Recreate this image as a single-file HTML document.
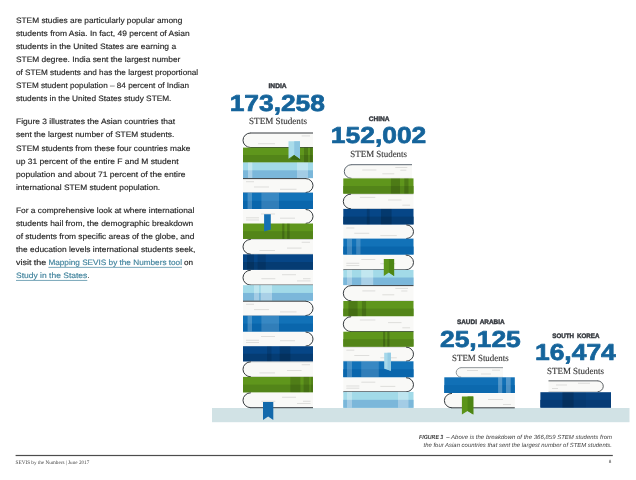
<!DOCTYPE html>
<html lang="en"><head><meta charset="utf-8"><title>SEVIS by the Numbers</title>
<style>
html,body{margin:0;padding:0;background:#fff;}
body{width:636px;height:480px;overflow:hidden;}
svg{display:block;}
text{white-space:pre;text-rendering:geometricPrecision;}
</style></head><body>
<svg width="636" height="480" viewBox="0 0 636 480">
<rect width="636" height="480" fill="#ffffff"/>
<rect x="212" y="408" width="417.5" height="14.2" fill="#d1e2e5"/>
<path d="M313 133.00 H250.25 A7.25 7.25 0 0 0 250.25 147.50 H313 Z" fill="#f9f9f7"/><line x1="301.7" y1="135.9" x2="310" y2="135.9" stroke="#d3d3d0" stroke-width="0.7"/><line x1="258" y1="143.7" x2="275" y2="143.7" stroke="#d3d3d0" stroke-width="0.7"/><path d="M250.25 133.00 A7.25 7.25 0 0 0 250.25 147.50" fill="none" stroke="#363b3f" stroke-width="1.0" stroke-linecap="round"/><path d="M250.25 133.00 H313" fill="none" stroke="#363b3f" stroke-width="1.0"/><path d="M250.25 147.50 H313" fill="none" stroke="#363b3f" stroke-width="1.0"/>
<rect x="243" y="147.6" width="70.00" height="14.90" fill="#5f961c"/><rect x="243" y="155.05" width="70.00" height="7.45" fill="#538519"/><rect x="304" y="147.6" width="4.00" height="14.90" fill="#000" fill-opacity="0.18"/><rect x="310" y="147.6" width="2.50" height="14.90" fill="#000" fill-opacity="0.18"/>
<rect x="243" y="162.5" width="70.00" height="15.60" fill="#a2dae8"/><rect x="243" y="170.30" width="70.00" height="7.80" fill="#7bb7da"/><rect x="248" y="162.5" width="4.30" height="15.60" fill="#fff" fill-opacity="0.35"/><rect x="297" y="162.5" width="11.00" height="15.60" fill="#fff" fill-opacity="0.3"/>
<path d="M243 178.60 H306.05 A6.95 6.95 0 0 1 306.05 192.50 H243 Z" fill="#f9f9f7"/><line x1="246" y1="181.7" x2="254" y2="181.7" stroke="#d3d3d0" stroke-width="0.7"/><line x1="254" y1="187.0" x2="269" y2="187.0" stroke="#d3d3d0" stroke-width="0.7"/><line x1="280" y1="189.29999999999998" x2="296.5" y2="189.29999999999998" stroke="#d3d3d0" stroke-width="0.7"/><path d="M306.05 178.60 A6.95 6.95 0 0 1 306.05 192.50" fill="none" stroke="#363b3f" stroke-width="1.0" stroke-linecap="round"/><path d="M306.05 178.60 H243" fill="none" stroke="#363b3f" stroke-width="1.0"/><path d="M306.05 192.50 H243" fill="none" stroke="#363b3f" stroke-width="0.60" stroke-opacity="0.4"/>
<rect x="243" y="192.6" width="70.00" height="16.40" fill="#1272b8"/><rect x="243" y="200.80" width="70.00" height="8.20" fill="#0a66ac"/><rect x="247.6" y="192.6" width="4.40" height="16.40" fill="#fff" fill-opacity="0.22"/><rect x="261.4" y="192.6" width="17.60" height="16.40" fill="#fff" fill-opacity="0.16"/>
<path d="M243 209.50 H306.05 A6.95 6.95 0 0 1 306.05 223.40 H243 Z" fill="#f9f9f7"/><line x1="261" y1="214.0" x2="275" y2="214.0" stroke="#d3d3d0" stroke-width="0.7"/><line x1="246" y1="217.8" x2="259" y2="217.8" stroke="#d3d3d0" stroke-width="0.7"/><line x1="246" y1="220.0" x2="259" y2="220.0" stroke="#d3d3d0" stroke-width="0.7"/><line x1="280" y1="218.2" x2="295" y2="218.2" stroke="#d3d3d0" stroke-width="0.7"/><path d="M306.05 209.50 A6.95 6.95 0 0 1 306.05 223.40" fill="none" stroke="#363b3f" stroke-width="1.0" stroke-linecap="round"/>
<rect x="243" y="223.5" width="70.00" height="15.40" fill="#5f961c"/><rect x="243" y="231.20" width="70.00" height="7.70" fill="#538519"/><rect x="282.2" y="223.5" width="2.20" height="15.40" fill="#000" fill-opacity="0.2"/><rect x="287.1" y="223.5" width="2.60" height="15.40" fill="#000" fill-opacity="0.2"/>
<path d="M313 239.40 H250.40 A7.40 7.40 0 0 0 250.40 254.20 H313 Z" fill="#f9f9f7"/><line x1="301.7" y1="242.3" x2="310" y2="242.3" stroke="#d3d3d0" stroke-width="0.7"/><line x1="287" y1="248.1" x2="301.5" y2="248.1" stroke="#d3d3d0" stroke-width="0.7"/><line x1="259.5" y1="250.5" x2="275" y2="250.5" stroke="#d3d3d0" stroke-width="0.7"/><path d="M250.40 239.40 A7.40 7.40 0 0 0 250.40 254.20" fill="none" stroke="#363b3f" stroke-width="1.0" stroke-linecap="round"/><path d="M250.40 239.40 H313" fill="none" stroke="#363b3f" stroke-width="0.60" stroke-opacity="0.4"/><path d="M250.40 254.20 H313" fill="none" stroke="#363b3f" stroke-width="0.60" stroke-opacity="0.3"/>
<rect x="243" y="254.3" width="70.00" height="15.40" fill="#064687"/><rect x="243" y="262.00" width="70.00" height="7.70" fill="#053c73"/><rect x="247" y="254.3" width="7.00" height="15.40" fill="#000" fill-opacity="0.15"/><rect x="257.6" y="254.3" width="8.20" height="15.40" fill="#000" fill-opacity="0.12"/>
<path d="M313 270.20 H250.45 A7.45 7.45 0 0 0 250.45 285.10 H313 Z" fill="#f9f9f7"/><line x1="282" y1="274.7" x2="296" y2="274.7" stroke="#d3d3d0" stroke-width="0.7"/><line x1="261.4" y1="278.7" x2="275.3" y2="278.7" stroke="#d3d3d0" stroke-width="0.7"/><line x1="303" y1="278.7" x2="310.5" y2="278.7" stroke="#d3d3d0" stroke-width="0.7"/><line x1="297" y1="280.9" x2="310.5" y2="280.9" stroke="#d3d3d0" stroke-width="0.7"/><path d="M250.45 270.20 A7.45 7.45 0 0 0 250.45 285.10" fill="none" stroke="#363b3f" stroke-width="1.0" stroke-linecap="round"/><path d="M250.45 285.10 H313" fill="none" stroke="#363b3f" stroke-width="1.0"/>
<rect x="243" y="285.2" width="70.00" height="15.50" fill="#a2dae8"/><rect x="243" y="292.95" width="70.00" height="7.75" fill="#7bb7da"/><rect x="254" y="285.2" width="5.00" height="15.50" fill="#fff" fill-opacity="0.3"/><rect x="260.8" y="285.2" width="11.20" height="15.50" fill="#fff" fill-opacity="0.35"/>
<path d="M243 301.20 H305.80 A7.20 7.20 0 0 1 305.80 315.60 H243 Z" fill="#f9f9f7"/><line x1="246" y1="304.3" x2="254" y2="304.3" stroke="#d3d3d0" stroke-width="0.7"/><line x1="254" y1="309.59999999999997" x2="269" y2="309.59999999999997" stroke="#d3d3d0" stroke-width="0.7"/><line x1="280" y1="311.9" x2="296.5" y2="311.9" stroke="#d3d3d0" stroke-width="0.7"/><path d="M305.80 301.20 A7.20 7.20 0 0 1 305.80 315.60" fill="none" stroke="#363b3f" stroke-width="1.0" stroke-linecap="round"/><path d="M305.80 301.20 H243" fill="none" stroke="#363b3f" stroke-width="1.0"/><path d="M305.80 315.60 H243" fill="none" stroke="#363b3f" stroke-width="0.60" stroke-opacity="0.4"/>
<rect x="243" y="315.7" width="70.00" height="15.80" fill="#1272b8"/><rect x="243" y="323.60" width="70.00" height="7.90" fill="#0a66ac"/><rect x="247.6" y="315.7" width="4.40" height="15.80" fill="#fff" fill-opacity="0.22"/><rect x="261.4" y="315.7" width="17.60" height="15.80" fill="#fff" fill-opacity="0.16"/>
<path d="M243 332.00 H305.95 A7.05 7.05 0 0 1 305.95 346.10 H243 Z" fill="#f9f9f7"/><line x1="261" y1="336.5" x2="275" y2="336.5" stroke="#d3d3d0" stroke-width="0.7"/><line x1="246" y1="340.3" x2="259" y2="340.3" stroke="#d3d3d0" stroke-width="0.7"/><line x1="246" y1="342.5" x2="259" y2="342.5" stroke="#d3d3d0" stroke-width="0.7"/><line x1="280" y1="340.7" x2="295" y2="340.7" stroke="#d3d3d0" stroke-width="0.7"/><path d="M305.95 332.00 A7.05 7.05 0 0 1 305.95 346.10" fill="none" stroke="#363b3f" stroke-width="1.0" stroke-linecap="round"/>
<rect x="243" y="346.2" width="70.00" height="15.10" fill="#064687"/><rect x="243" y="353.75" width="70.00" height="7.55" fill="#053c73"/><rect x="267" y="346.2" width="4.50" height="15.10" fill="#000" fill-opacity="0.12"/><rect x="279.7" y="346.2" width="10.60" height="15.10" fill="#000" fill-opacity="0.18"/>
<path d="M313 361.80 H250.50 A7.50 7.50 0 0 0 250.50 376.80 H313 Z" fill="#f9f9f7"/><line x1="301.7" y1="364.7" x2="310" y2="364.7" stroke="#d3d3d0" stroke-width="0.7"/><line x1="287" y1="370.5" x2="301.5" y2="370.5" stroke="#d3d3d0" stroke-width="0.7"/><line x1="259.5" y1="372.90000000000003" x2="275" y2="372.90000000000003" stroke="#d3d3d0" stroke-width="0.7"/><path d="M250.50 361.80 A7.50 7.50 0 0 0 250.50 376.80" fill="none" stroke="#363b3f" stroke-width="1.0" stroke-linecap="round"/><path d="M250.50 361.80 H313" fill="none" stroke="#363b3f" stroke-width="0.60" stroke-opacity="0.4"/><path d="M250.50 376.80 H313" fill="none" stroke="#363b3f" stroke-width="0.60" stroke-opacity="0.3"/>
<rect x="243" y="376.9" width="70.00" height="15.40" fill="#5f961c"/><rect x="243" y="384.60" width="70.00" height="7.70" fill="#538519"/><rect x="290.3" y="376.9" width="10.10" height="15.40" fill="#000" fill-opacity="0.16"/><rect x="303.6" y="376.9" width="5.60" height="15.40" fill="#000" fill-opacity="0.16"/><rect x="311" y="376.9" width="2.00" height="15.40" fill="#000" fill-opacity="0.12"/>
<path d="M313 392.80 H250.45 A7.45 7.45 0 0 0 250.45 407.70 H313 Z" fill="#f9f9f7"/><line x1="282" y1="397.3" x2="296" y2="397.3" stroke="#d3d3d0" stroke-width="0.7"/><line x1="261.4" y1="401.3" x2="275.3" y2="401.3" stroke="#d3d3d0" stroke-width="0.7"/><line x1="303" y1="401.3" x2="310.5" y2="401.3" stroke="#d3d3d0" stroke-width="0.7"/><line x1="297" y1="403.5" x2="310.5" y2="403.5" stroke="#d3d3d0" stroke-width="0.7"/><path d="M250.45 392.80 A7.45 7.45 0 0 0 250.45 407.70" fill="none" stroke="#363b3f" stroke-width="1.0" stroke-linecap="round"/><path d="M250.45 407.70 H313" fill="none" stroke="#363b3f" stroke-width="1.0"/>
<path d="M290 159.6 L294.3 154.6 L301 160.2 Z" fill="#2f5d0f" fill-opacity="0.75"/>
<path d="M288.5 141.3 H300 V158.7 L294.25 154.7 L288.5 158.7 Z" fill="#a9dcea"/>
<path d="M294.25 141.3 H300 V158.7 L294.25 154.7 Z" fill="#8cc6e0"/>
<path d="M264.1 214.3 H270.8 V229.6 L264.1 231.6 Z" fill="#1570b4"/>
<path d="M263 402 H273.3 V420 L268.15 416.5 L263 420 Z" fill="#1369ab"/>
<path d="M412.0 164.70 H351.10 A6.80 6.80 0 0 0 351.10 178.30 H412.0 Z" fill="#f9f9f7"/><line x1="395.3" y1="167.5" x2="407.3" y2="167.5" stroke="#d3d3d0" stroke-width="0.7"/><line x1="400.3" y1="170.2" x2="406.3" y2="170.2" stroke="#d3d3d0" stroke-width="0.7"/><line x1="362.3" y1="170.0" x2="376.3" y2="170.0" stroke="#d3d3d0" stroke-width="0.7"/><line x1="382.3" y1="173.79999999999998" x2="394.3" y2="173.79999999999998" stroke="#d3d3d0" stroke-width="0.7"/><path d="M351.10 164.70 A6.80 6.80 0 0 0 351.10 178.30" fill="none" stroke="#5d6770" stroke-width="1.0" stroke-linecap="round"/><path d="M351.10 164.70 H412.0" fill="none" stroke="#5d6770" stroke-width="1.0"/><path d="M351.10 178.30 H412.0" fill="none" stroke="#5d6770" stroke-width="0.60" stroke-opacity="0.3"/>
<rect x="343.3" y="178.4" width="70.20" height="15.20" fill="#5f961c"/><rect x="343.3" y="186.00" width="70.20" height="7.60" fill="#538519"/><rect x="390.9" y="178.4" width="9.10" height="15.20" fill="#000" fill-opacity="0.18"/><rect x="404.3" y="178.4" width="4.20" height="15.20" fill="#000" fill-opacity="0.18"/>
<path d="M413.5 194.10 H350.65 A7.35 7.35 0 0 0 350.65 208.80 H413.5 Z" fill="#f9f9f7"/><line x1="359.90000000000003" y1="197.4" x2="375.3" y2="197.4" stroke="#d3d3d0" stroke-width="0.7"/><line x1="388.1" y1="200.0" x2="401.5" y2="200.0" stroke="#d3d3d0" stroke-width="0.7"/><line x1="402.3" y1="205.2" x2="410.1" y2="205.2" stroke="#d3d3d0" stroke-width="0.7"/><path d="M350.65 194.10 A7.35 7.35 0 0 0 350.65 208.80" fill="none" stroke="#363b3f" stroke-width="1.0" stroke-linecap="round"/><path d="M350.65 194.10 H413.5" fill="none" stroke="#363b3f" stroke-width="0.60" stroke-opacity="0.3"/><path d="M350.65 208.80 H413.5" fill="none" stroke="#363b3f" stroke-width="0.60" stroke-opacity="0.3"/>
<rect x="343.3" y="208.9" width="70.20" height="15.50" fill="#064687"/><rect x="343.3" y="216.65" width="70.20" height="7.75" fill="#053c73"/><rect x="366.8" y="208.9" width="2.90" height="15.50" fill="#000" fill-opacity="0.15"/><rect x="381" y="208.9" width="10.60" height="15.50" fill="#000" fill-opacity="0.18"/>
<path d="M343.3 224.90 H406.70 A6.80 6.80 0 0 1 406.70 238.50 H343.3 Z" fill="#f9f9f7"/><line x1="346.3" y1="228.0" x2="354.3" y2="228.0" stroke="#d3d3d0" stroke-width="0.7"/><line x1="354.3" y1="233.3" x2="369.3" y2="233.3" stroke="#d3d3d0" stroke-width="0.7"/><line x1="380.3" y1="235.6" x2="396.8" y2="235.6" stroke="#d3d3d0" stroke-width="0.7"/><path d="M406.70 224.90 A6.80 6.80 0 0 1 406.70 238.50" fill="none" stroke="#363b3f" stroke-width="1.0" stroke-linecap="round"/>
<rect x="343.3" y="238.6" width="70.20" height="15.90" fill="#1272b8"/><rect x="343.3" y="246.55" width="70.20" height="7.95" fill="#0a66ac"/><rect x="347" y="238.6" width="5.00" height="15.90" fill="#fff" fill-opacity="0.22"/><rect x="356.2" y="238.6" width="4.30" height="15.90" fill="#fff" fill-opacity="0.2"/>
<path d="M343.3 255.00 H406.10 A7.40 7.40 0 0 1 406.10 269.80 H343.3 Z" fill="#f9f9f7"/><line x1="361.3" y1="259.5" x2="375.3" y2="259.5" stroke="#d3d3d0" stroke-width="0.7"/><line x1="346.3" y1="263.3" x2="359.3" y2="263.3" stroke="#d3d3d0" stroke-width="0.7"/><line x1="346.3" y1="265.5" x2="359.3" y2="265.5" stroke="#d3d3d0" stroke-width="0.7"/><line x1="380.3" y1="263.7" x2="395.3" y2="263.7" stroke="#d3d3d0" stroke-width="0.7"/><path d="M406.10 255.00 A7.40 7.40 0 0 1 406.10 269.80" fill="none" stroke="#363b3f" stroke-width="1.0" stroke-linecap="round"/><path d="M406.10 269.80 H343.3" fill="none" stroke="#363b3f" stroke-width="1.0"/>
<rect x="343.3" y="269.9" width="70.20" height="15.20" fill="#a2dae8"/><rect x="343.3" y="277.50" width="70.20" height="7.60" fill="#7bb7da"/><rect x="347" y="269.9" width="5.00" height="15.20" fill="#fff" fill-opacity="0.3"/><rect x="361.2" y="269.9" width="12.00" height="15.20" fill="#fff" fill-opacity="0.35"/>
<path d="M413.5 285.60 H350.95 A7.65 7.65 0 0 0 350.95 300.90 H413.5 Z" fill="#f9f9f7"/><line x1="395.3" y1="288.40000000000003" x2="408.0" y2="288.40000000000003" stroke="#d3d3d0" stroke-width="0.7"/><line x1="401.3" y1="291.0" x2="407.3" y2="291.0" stroke="#d3d3d0" stroke-width="0.7"/><line x1="362.3" y1="290.90000000000003" x2="375.3" y2="290.90000000000003" stroke="#d3d3d0" stroke-width="0.7"/><line x1="382.3" y1="294.8" x2="394.3" y2="294.8" stroke="#d3d3d0" stroke-width="0.7"/><path d="M350.95 285.60 A7.65 7.65 0 0 0 350.95 300.90" fill="none" stroke="#363b3f" stroke-width="1.0" stroke-linecap="round"/><path d="M350.95 285.60 H413.5" fill="none" stroke="#363b3f" stroke-width="1.0"/><path d="M350.95 300.90 H413.5" fill="none" stroke="#363b3f" stroke-width="0.60" stroke-opacity="0.3"/>
<rect x="343.3" y="301.0" width="70.20" height="15.20" fill="#5f961c"/><rect x="343.3" y="308.60" width="70.20" height="7.60" fill="#538519"/><rect x="348.4" y="301.0" width="9.20" height="15.20" fill="#000" fill-opacity="0.18"/><rect x="361.9" y="301.0" width="4.20" height="15.20" fill="#000" fill-opacity="0.18"/>
<path d="M413.5 316.70 H350.75 A7.45 7.45 0 0 0 350.75 331.60 H413.5 Z" fill="#f9f9f7"/><line x1="359.90000000000003" y1="320.0" x2="375.3" y2="320.0" stroke="#d3d3d0" stroke-width="0.7"/><line x1="388.1" y1="322.59999999999997" x2="401.5" y2="322.59999999999997" stroke="#d3d3d0" stroke-width="0.7"/><line x1="402.3" y1="327.8" x2="410.1" y2="327.8" stroke="#d3d3d0" stroke-width="0.7"/><path d="M350.75 316.70 A7.45 7.45 0 0 0 350.75 331.60" fill="none" stroke="#363b3f" stroke-width="1.0" stroke-linecap="round"/><path d="M350.75 331.60 H413.5" fill="none" stroke="#363b3f" stroke-width="1.0"/>
<rect x="343.3" y="331.7" width="70.20" height="14.90" fill="#5f961c"/><rect x="343.3" y="339.15" width="70.20" height="7.45" fill="#538519"/><rect x="383.1" y="331.7" width="2.10" height="14.90" fill="#000" fill-opacity="0.22"/><rect x="387.3" y="331.7" width="2.20" height="14.90" fill="#000" fill-opacity="0.22"/>
<path d="M343.3 347.10 H406.45 A7.05 7.05 0 0 1 406.45 361.20 H343.3 Z" fill="#f9f9f7"/><line x1="346.3" y1="350.20000000000005" x2="354.3" y2="350.20000000000005" stroke="#d3d3d0" stroke-width="0.7"/><line x1="354.3" y1="355.5" x2="369.3" y2="355.5" stroke="#d3d3d0" stroke-width="0.7"/><line x1="380.3" y1="357.8" x2="396.8" y2="357.8" stroke="#d3d3d0" stroke-width="0.7"/><path d="M406.45 347.10 A7.05 7.05 0 0 1 406.45 361.20" fill="none" stroke="#363b3f" stroke-width="1.0" stroke-linecap="round"/><path d="M406.45 347.10 H343.3" fill="none" stroke="#363b3f" stroke-width="0.60" stroke-opacity="0.3"/><path d="M406.45 361.20 H343.3" fill="none" stroke="#363b3f" stroke-width="0.60" stroke-opacity="0.3"/>
<rect x="343.3" y="361.3" width="70.20" height="15.90" fill="#1272b8"/><rect x="343.3" y="369.25" width="70.20" height="7.95" fill="#0a66ac"/><rect x="347" y="361.3" width="5.00" height="15.90" fill="#fff" fill-opacity="0.22"/><rect x="361.2" y="361.3" width="17.60" height="15.90" fill="#fff" fill-opacity="0.16"/>
<path d="M343.3 377.70 H406.45 A7.05 7.05 0 0 1 406.45 391.80 H343.3 Z" fill="#f9f9f7"/><line x1="361.3" y1="382.2" x2="375.3" y2="382.2" stroke="#d3d3d0" stroke-width="0.7"/><line x1="346.3" y1="386.0" x2="359.3" y2="386.0" stroke="#d3d3d0" stroke-width="0.7"/><line x1="346.3" y1="388.2" x2="359.3" y2="388.2" stroke="#d3d3d0" stroke-width="0.7"/><line x1="380.3" y1="386.4" x2="395.3" y2="386.4" stroke="#d3d3d0" stroke-width="0.7"/><path d="M406.45 377.70 A7.05 7.05 0 0 1 406.45 391.80" fill="none" stroke="#363b3f" stroke-width="1.0" stroke-linecap="round"/><path d="M406.45 391.80 H343.3" fill="none" stroke="#363b3f" stroke-width="1.0"/>
<rect x="343.3" y="391.9" width="70.20" height="15.90" fill="#a2dae8"/><rect x="343.3" y="399.85" width="70.20" height="7.95" fill="#7bb7da"/><rect x="347" y="391.9" width="5.00" height="15.90" fill="#fff" fill-opacity="0.3"/><rect x="398" y="391.9" width="10.50" height="15.90" fill="#fff" fill-opacity="0.3"/>
<path d="M383.8 258.9 H394.1 V275.9 L388.95000000000005 272.4 L383.8 275.9 Z" fill="#5b9419"/>
<path d="M388.95000000000005 258.9 H394.1 V275.9 L388.95000000000005 272.4 Z" fill="#4d8514"/>
<path d="M384.2 352.8 H390.9 V370.7 L384.2 368.7 Z" fill="#a6d8ea"/>
<path d="M387.54999999999995 352.8 H390.9 V370.7 L387.54999999999995 369.7 Z" fill="#93cbe4"/>
<path d="M503 367.65 H460.77 A4.78 4.78 0 0 0 460.77 377.20 H503 Z" fill="#f9f9f7"/><line x1="467" y1="370.5" x2="478" y2="370.5" stroke="#d3d3d0" stroke-width="0.7"/><line x1="492" y1="370.2" x2="500" y2="370.2" stroke="#d3d3d0" stroke-width="0.7"/><line x1="481" y1="374" x2="491" y2="374" stroke="#d3d3d0" stroke-width="0.7"/><path d="M460.77 367.65 A4.78 4.78 0 0 0 460.77 377.20" fill="none" stroke="#858b90" stroke-width="0.9" stroke-linecap="round"/><path d="M460.77 367.65 H503" fill="none" stroke="#858b90" stroke-width="0.9"/><path d="M460.77 377.20 H503" fill="none" stroke="#858b90" stroke-width="0.54" stroke-opacity="0.4"/>
<rect x="444.3" y="377.3" width="70.50" height="15.70" fill="#1170b6"/><rect x="444.3" y="385.15" width="70.50" height="7.85" fill="#0c69ae"/><rect x="498.1" y="377.3" width="4.10" height="15.70" fill="#fff" fill-opacity="0.28"/><rect x="506" y="377.3" width="4.70" height="15.70" fill="#fff" fill-opacity="0.28"/>
<path d="M514.8 393.40 H451.60 A7.20 7.20 0 0 0 451.60 407.80 H514.8 Z" fill="#f9f9f7"/><line x1="488" y1="399.5" x2="503" y2="399.5" stroke="#d3d3d0" stroke-width="0.7"/><line x1="503" y1="404.5" x2="511" y2="404.5" stroke="#d3d3d0" stroke-width="0.7"/><path d="M451.60 393.40 A7.20 7.20 0 0 0 451.60 407.80" fill="none" stroke="#363b3f" stroke-width="1.0" stroke-linecap="round"/><path d="M451.60 407.80 H514.8" fill="none" stroke="#363b3f" stroke-width="1.0"/>
<path d="M461.9 396.6 H473.3 V414.6 L467.6 411.1 L461.9 414.6 Z" fill="#5b9419"/>
<path d="M467.6 396.6 H473.3 V414.6 L467.6 411.1 Z" fill="#4d8514"/>
<path d="M548.5 380.85 H598.08 A5.43 5.43 0 0 1 598.08 391.70 H548.5 Z" fill="#f9f9f7"/><line x1="556" y1="385" x2="567" y2="385" stroke="#d3d3d0" stroke-width="0.7"/><line x1="578" y1="383.3" x2="590" y2="383.3" stroke="#d3d3d0" stroke-width="0.7"/><line x1="552" y1="388.5" x2="558" y2="388.5" stroke="#d3d3d0" stroke-width="0.7"/><path d="M598.08 380.85 A5.43 5.43 0 0 1 598.08 391.70" fill="none" stroke="#4a4f54" stroke-width="0.9" stroke-linecap="round"/><path d="M598.08 380.85 H548.5" fill="none" stroke="#4a4f54" stroke-width="0.9"/><path d="M598.08 391.70 H548.5" fill="none" stroke="#4a4f54" stroke-width="0.54" stroke-opacity="0.5"/>
<rect x="540.4" y="392.2" width="70.60" height="15.40" fill="#074280"/><rect x="540.4" y="399.90" width="70.60" height="7.70" fill="#063b75"/><rect x="562.4" y="392.2" width="11.20" height="15.40" fill="#000" fill-opacity="0.2"/><rect x="573.6" y="392.2" width="12.40" height="15.40" fill="#000" fill-opacity="0.05"/>
<text x="277.6" y="88.4" font-family="'Liberation Sans', Arial, sans-serif" font-size="6.5" font-weight="bold" font-style="normal" fill="#34383e" text-anchor="middle" textLength="18.2" lengthAdjust="spacingAndGlyphs" stroke="#34383e" stroke-width="0.4" word-spacing="1.2">INDIA</text>
<text x="229.65" y="110.75" font-family="'Liberation Sans', Arial, sans-serif" font-size="23.0" font-weight="bold" font-style="normal" fill="#15649b" text-anchor="start" textLength="95.3" lengthAdjust="spacingAndGlyphs" stroke="#15649b" stroke-width="0.7" stroke-linejoin="round">173,258</text>
<text x="249" y="124.1" font-family="'Liberation Serif', 'Times New Roman', serif" font-size="9.3" font-weight="normal" font-style="normal" fill="#333" text-anchor="start" textLength="58" lengthAdjust="spacingAndGlyphs" stroke="#333" stroke-width="0.12">STEM Students</text>
<text x="379.1" y="121.3" font-family="'Liberation Sans', Arial, sans-serif" font-size="6.5" font-weight="bold" font-style="normal" fill="#34383e" text-anchor="middle" textLength="20.8" lengthAdjust="spacingAndGlyphs" stroke="#34383e" stroke-width="0.4" word-spacing="1.2">CHINA</text>
<text x="330.85" y="142.65" font-family="'Liberation Sans', Arial, sans-serif" font-size="23.0" font-weight="bold" font-style="normal" fill="#15649b" text-anchor="start" textLength="95.4" lengthAdjust="spacingAndGlyphs" stroke="#15649b" stroke-width="0.7" stroke-linejoin="round">152,002</text>
<text x="350.3" y="157.0" font-family="'Liberation Serif', 'Times New Roman', serif" font-size="9.3" font-weight="normal" font-style="normal" fill="#333" text-anchor="start" textLength="56.7" lengthAdjust="spacingAndGlyphs" stroke="#333" stroke-width="0.12">STEM Students</text>
<text x="480.8" y="324.4" font-family="'Liberation Sans', Arial, sans-serif" font-size="6.5" font-weight="bold" font-style="normal" fill="#34383e" text-anchor="middle" textLength="47.8" lengthAdjust="spacingAndGlyphs" stroke="#34383e" stroke-width="0.4" word-spacing="1.2">SAUDI ARABIA</text>
<text x="439.95000000000005" y="346.9" font-family="'Liberation Sans', Arial, sans-serif" font-size="23.0" font-weight="bold" font-style="normal" fill="#15649b" text-anchor="start" textLength="80.9" lengthAdjust="spacingAndGlyphs" stroke="#15649b" stroke-width="0.7" stroke-linejoin="round">25,125</text>
<text x="452" y="361.1" font-family="'Liberation Serif', 'Times New Roman', serif" font-size="9.3" font-weight="normal" font-style="normal" fill="#333" text-anchor="start" textLength="56.6" lengthAdjust="spacingAndGlyphs" stroke="#333" stroke-width="0.12">STEM Students</text>
<text x="575.9" y="338.2" font-family="'Liberation Sans', Arial, sans-serif" font-size="6.5" font-weight="bold" font-style="normal" fill="#34383e" text-anchor="middle" textLength="47.2" lengthAdjust="spacingAndGlyphs" stroke="#34383e" stroke-width="0.4" word-spacing="1.2">SOUTH KOREA</text>
<text x="534.95" y="359.65" font-family="'Liberation Sans', Arial, sans-serif" font-size="23.0" font-weight="bold" font-style="normal" fill="#15649b" text-anchor="start" textLength="80.9" lengthAdjust="spacingAndGlyphs" stroke="#15649b" stroke-width="0.7" stroke-linejoin="round">16,474</text>
<text x="547" y="373.6" font-family="'Liberation Serif', 'Times New Roman', serif" font-size="9.3" font-weight="normal" font-style="normal" fill="#333" text-anchor="start" textLength="56.9" lengthAdjust="spacingAndGlyphs" stroke="#333" stroke-width="0.12">STEM Students</text>
<text x="16" y="22.6" font-family="'Liberation Sans', Arial, sans-serif" font-size="7.8" font-weight="normal" font-style="normal" fill="#262626" text-anchor="start" textLength="166.3" lengthAdjust="spacingAndGlyphs" stroke="#262626" stroke-width="0.15">STEM studies are particularly popular among</text>
<text x="16" y="35.65" font-family="'Liberation Sans', Arial, sans-serif" font-size="7.8" font-weight="normal" font-style="normal" fill="#262626" text-anchor="start" textLength="173.6" lengthAdjust="spacingAndGlyphs" stroke="#262626" stroke-width="0.15">students from Asia. In fact, 49 percent of Asian</text>
<text x="16" y="48.7" font-family="'Liberation Sans', Arial, sans-serif" font-size="7.8" font-weight="normal" font-style="normal" fill="#262626" text-anchor="start" textLength="160.1" lengthAdjust="spacingAndGlyphs" stroke="#262626" stroke-width="0.15">students in the United States are earning a</text>
<text x="16" y="61.75" font-family="'Liberation Sans', Arial, sans-serif" font-size="7.8" font-weight="normal" font-style="normal" fill="#262626" text-anchor="start" textLength="164.4" lengthAdjust="spacingAndGlyphs" stroke="#262626" stroke-width="0.15">STEM degree. India sent the largest number</text>
<text x="16" y="74.8" font-family="'Liberation Sans', Arial, sans-serif" font-size="7.8" font-weight="normal" font-style="normal" fill="#262626" text-anchor="start" textLength="182.1" lengthAdjust="spacingAndGlyphs" stroke="#262626" stroke-width="0.15">of STEM students and has the largest proportional</text>
<text x="16" y="87.85" font-family="'Liberation Sans', Arial, sans-serif" font-size="7.8" font-weight="normal" font-style="normal" fill="#262626" text-anchor="start" textLength="173.0" lengthAdjust="spacingAndGlyphs" stroke="#262626" stroke-width="0.15">STEM student population – 84 percent of Indian</text>
<text x="16" y="100.9" font-family="'Liberation Sans', Arial, sans-serif" font-size="7.8" font-weight="normal" font-style="normal" fill="#262626" text-anchor="start" textLength="155.4" lengthAdjust="spacingAndGlyphs" stroke="#262626" stroke-width="0.15">students in the United States study STEM.</text>
<text x="16" y="124.4" font-family="'Liberation Sans', Arial, sans-serif" font-size="7.8" font-weight="normal" font-style="normal" fill="#262626" text-anchor="start" textLength="159" lengthAdjust="spacingAndGlyphs" stroke="#262626" stroke-width="0.15">Figure 3 illustrates the Asian countries that</text>
<text x="16" y="137.45" font-family="'Liberation Sans', Arial, sans-serif" font-size="7.8" font-weight="normal" font-style="normal" fill="#262626" text-anchor="start" textLength="158.2" lengthAdjust="spacingAndGlyphs" stroke="#262626" stroke-width="0.15">sent the largest number of STEM students.</text>
<text x="16" y="150.5" font-family="'Liberation Sans', Arial, sans-serif" font-size="7.8" font-weight="normal" font-style="normal" fill="#262626" text-anchor="start" textLength="174.4" lengthAdjust="spacingAndGlyphs" stroke="#262626" stroke-width="0.15">STEM students from these four countries make</text>
<text x="16" y="163.55" font-family="'Liberation Sans', Arial, sans-serif" font-size="7.8" font-weight="normal" font-style="normal" fill="#262626" text-anchor="start" textLength="162.6" lengthAdjust="spacingAndGlyphs" stroke="#262626" stroke-width="0.15">up 31 percent of the entire F and M student</text>
<text x="16" y="176.6" font-family="'Liberation Sans', Arial, sans-serif" font-size="7.8" font-weight="normal" font-style="normal" fill="#262626" text-anchor="start" textLength="169.6" lengthAdjust="spacingAndGlyphs" stroke="#262626" stroke-width="0.15">population and about 71 percent of the entire</text>
<text x="16" y="189.65" font-family="'Liberation Sans', Arial, sans-serif" font-size="7.8" font-weight="normal" font-style="normal" fill="#262626" text-anchor="start" textLength="144.2" lengthAdjust="spacingAndGlyphs" stroke="#262626" stroke-width="0.15">international STEM student population.</text>
<text x="16" y="213.1" font-family="'Liberation Sans', Arial, sans-serif" font-size="7.8" font-weight="normal" font-style="normal" fill="#262626" text-anchor="start" textLength="178.3" lengthAdjust="spacingAndGlyphs" stroke="#262626" stroke-width="0.15">For a comprehensive look at where international</text>
<text x="16" y="226.15" font-family="'Liberation Sans', Arial, sans-serif" font-size="7.8" font-weight="normal" font-style="normal" fill="#262626" text-anchor="start" textLength="177.3" lengthAdjust="spacingAndGlyphs" stroke="#262626" stroke-width="0.15">students hail from, the demographic breakdown</text>
<text x="16" y="239.2" font-family="'Liberation Sans', Arial, sans-serif" font-size="7.8" font-weight="normal" font-style="normal" fill="#262626" text-anchor="start" textLength="178.3" lengthAdjust="spacingAndGlyphs" stroke="#262626" stroke-width="0.15">of students from specific areas of the globe, and</text>
<text x="16" y="252.25" font-family="'Liberation Sans', Arial, sans-serif" font-size="7.8" font-weight="normal" font-style="normal" fill="#262626" text-anchor="start" textLength="179.4" lengthAdjust="spacingAndGlyphs" stroke="#262626" stroke-width="0.15">the education levels international students seek,</text>
<text x="16" y="265.3" font-family="'Liberation Sans', Arial, sans-serif" font-size="7.8" fill="#262626" stroke="#262626" stroke-width="0.15" textLength="30.3" lengthAdjust="spacingAndGlyphs">visit the</text>
<text x="48.4" y="265.3" font-family="'Liberation Sans', Arial, sans-serif" font-size="7.8" fill="#3f829c" stroke="#3f829c" stroke-width="0.15" textLength="133.6" lengthAdjust="spacingAndGlyphs">Mapping SEVIS by the Numbers tool</text>
<rect x="48.4" y="266.9" width="133.6" height="0.7" fill="#3f829c"/>
<text x="183.9" y="265.3" font-family="'Liberation Sans', Arial, sans-serif" font-size="7.8" fill="#262626" stroke="#262626" stroke-width="0.15" textLength="9.1" lengthAdjust="spacingAndGlyphs">on</text>
<text x="16" y="278.35" font-family="'Liberation Sans', Arial, sans-serif" font-size="7.8" fill="#3f829c" stroke="#3f829c" stroke-width="0.15" textLength="71.3" lengthAdjust="spacingAndGlyphs">Study in the States</text>
<rect x="16" y="279.95" width="71.3" height="0.7" fill="#3f829c"/>
<text x="87.6" y="278.35" font-family="'Liberation Sans', Arial, sans-serif" font-size="7.8" fill="#262626" stroke="#262626" stroke-width="0.15" textLength="1.7" lengthAdjust="spacingAndGlyphs">.</text>
<text x="419" y="438.7" font-family="'Liberation Sans', Arial, sans-serif" font-size="5.95" font-style="italic" font-weight="bold" fill="#3c3c3c" textLength="24.3" lengthAdjust="spacingAndGlyphs">FIGURE 3</text>
<text x="446.3" y="438.7" font-family="'Liberation Sans', Arial, sans-serif" font-size="5.95" font-style="italic" fill="#3c3c3c" textLength="165.7" lengthAdjust="spacingAndGlyphs">– Above is the breakdown of the 366,859 STEM students from</text>
<text x="612" y="447.4" font-family="'Liberation Sans', Arial, sans-serif" font-size="5.95" font-style="italic" fill="#3c3c3c" text-anchor="end" textLength="188.5" lengthAdjust="spacingAndGlyphs">the four Asian countries that sent the largest number of STEM students.</text>
<rect x="15.6" y="454.9" width="597.2" height="1.2" fill="#4d4d4d"/>
<text x="15.6" y="463.8" font-family="'Liberation Serif', 'Times New Roman', serif" font-size="5.2" font-weight="normal" font-style="normal" fill="#444" text-anchor="start" textLength="73.7" lengthAdjust="spacingAndGlyphs" >SEVIS by the Numbers | June 2017</text>
<text x="611.3" y="463.3" font-family="'Liberation Sans', Arial, sans-serif" font-size="4.6" font-weight="normal" font-style="normal" fill="#555" text-anchor="end" >8</text>
</svg></body></html>
